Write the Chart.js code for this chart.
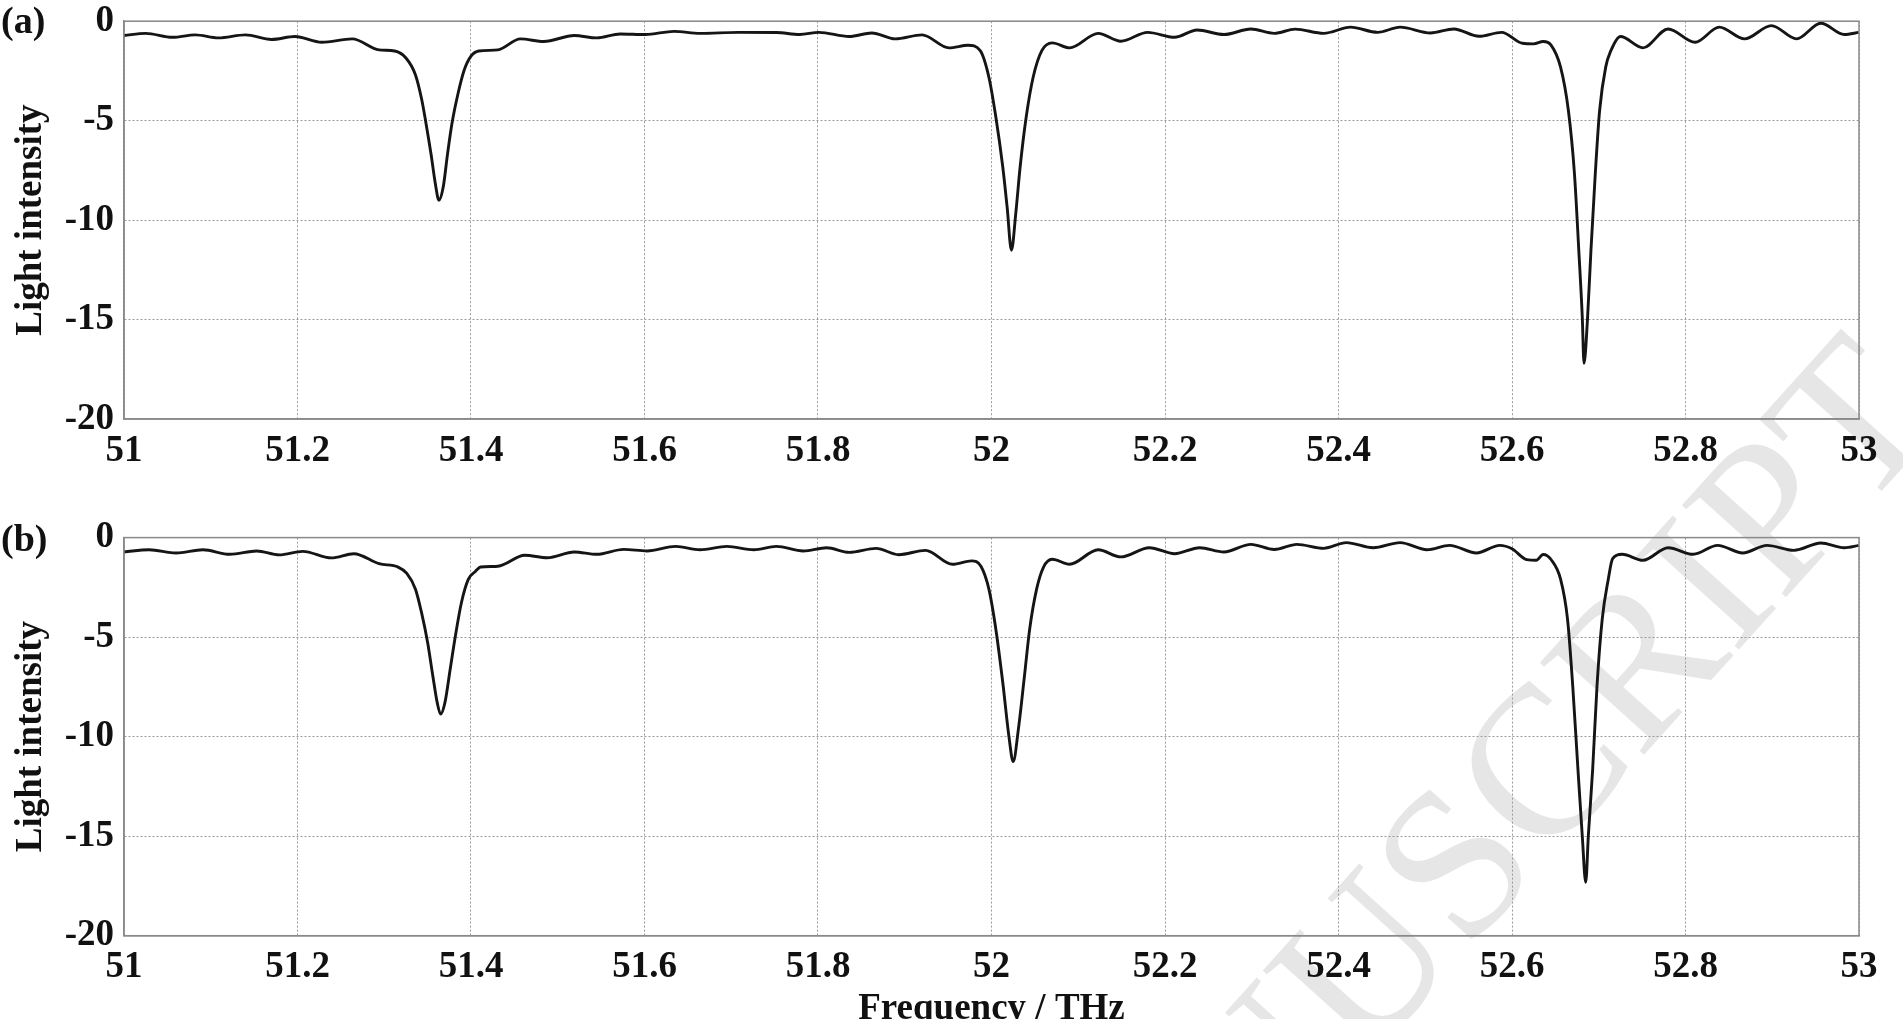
<!DOCTYPE html>
<html>
<head>
<meta charset="utf-8">
<script src="https://cdn.jsdelivr.net/npm/chart.js@4.4.0/dist/chart.umd.min.js"></script>
<style>
  html, body { margin: 0; padding: 0; background: #fff; overflow: hidden; width: 1903px; height: 1019px; }
  canvas { position: absolute; left: 0; z-index: 1; }
  #chartA { top: -11px; }
  #chartB { top: 500px; }
  .tag { position: absolute; left: 1px; font: bold 38px "Liberation Serif", serif; line-height: 38px; color: #111; z-index: 2; }
  #watermark {
    position: absolute; left: 905px; top: 1320px; z-index: 0;
    font: 212px "Liberation Serif", serif; line-height: 200px; color: #e6e6e6;
    white-space: nowrap; transform-origin: 0 0; transform: rotate(-48deg);
  }
</style>
</head>
<body>
<div id="watermark">MANUSCRIPT</div>
<div class="tag" style="top:1px">(a)</div>
<div class="tag" style="top:519px">(b)</div>
<canvas id="chartA" width="1903" height="491"></canvas>
<canvas id="chartB" width="1903" height="534"></canvas>
<script>
// Axis ticks
const xTickLabels = ['51', '51.2', '51.4', '51.6', '51.8', '52', '52.2', '52.4', '52.6', '52.8', '53'];
const yTickLabels = ['-20', '-15', '-10', '-5', '0'];

// Panel (a) spectrum
const freqA = [51.000, 51.025, 51.056, 51.082, 51.109, 51.140, 51.170, 51.197, 51.228, 51.263,
  51.294, 51.312, 51.325, 51.336, 51.343, 51.348, 51.354, 51.359, 51.363, 51.368,
  51.373, 51.378, 51.385, 51.392, 51.400, 51.409, 51.431, 51.457, 51.484, 51.519,
  51.545, 51.572, 51.601, 51.634, 51.664, 51.708, 51.752, 51.779, 51.801, 51.836,
  51.862, 51.889, 51.920, 51.951, 51.973, 51.987, 51.997, 52.005, 52.013, 52.018,
  52.023, 52.028, 52.033, 52.040, 52.048, 52.058, 52.070, 52.090, 52.123, 52.149,
  52.180, 52.211, 52.237, 52.268, 52.299, 52.326, 52.350, 52.383, 52.414, 52.445,
  52.471, 52.506, 52.533, 52.562, 52.588, 52.612, 52.625, 52.636, 52.645, 52.656,
  52.665, 52.672, 52.677, 52.681, 52.683, 52.687, 52.691, 52.696, 52.701, 52.708,
  52.714, 52.725, 52.751, 52.780, 52.811, 52.839, 52.868, 52.899, 52.928, 52.956,
  52.983, 53.000];
const intensityA = [-0.72, -0.61, -0.81, -0.69, -0.84, -0.69, -0.92, -0.77, -1.06, -0.89,
  -1.44, -1.50, -1.85, -2.70, -3.90, -5.10, -6.70, -8.20, -9.00, -8.33,
  -6.66, -5.16, -3.65, -2.48, -1.76, -1.50, -1.44, -0.89, -1.02, -0.72,
  -0.84, -0.64, -0.67, -0.51, -0.61, -0.56, -0.57, -0.67, -0.56, -0.77,
  -0.59, -0.89, -0.69, -1.34, -1.21, -1.48, -2.82, -4.82, -7.33, -9.34,
  -11.52, -9.66, -7.33, -4.82, -2.82, -1.48, -1.09, -1.34, -0.61, -1.01,
  -0.56, -0.81, -0.44, -0.67, -0.39, -0.61, -0.40, -0.61, -0.30, -0.56,
  -0.30, -0.59, -0.39, -0.76, -0.56, -1.11, -1.14, -1.02, -1.20, -2.31,
  -4.49, -7.67, -11.52, -14.86, -17.20, -15.00, -11.52, -7.67, -4.49, -2.31,
  -1.48, -0.77, -1.34, -0.39, -1.06, -0.30, -0.89, -0.22, -0.89, -0.10,
  -0.67, -0.56];

// Panel (b) spectrum
const freqB = [51.000, 51.029, 51.060, 51.091, 51.122, 51.153, 51.179, 51.206, 51.239, 51.265,
  51.294, 51.316, 51.326, 51.336, 51.343, 51.350, 51.356, 51.361, 51.365, 51.370,
  51.376, 51.382, 51.389, 51.397, 51.405, 51.411, 51.431, 51.462, 51.488, 51.519,
  51.545, 51.576, 51.603, 51.636, 51.664, 51.695, 51.726, 51.752, 51.783, 51.810,
  51.836, 51.867, 51.893, 51.924, 51.955, 51.977, 51.988, 51.997, 52.005, 52.013,
  52.020, 52.025, 52.031, 52.038, 52.044, 52.052, 52.060, 52.070, 52.090, 52.123,
  52.149, 52.182, 52.211, 52.240, 52.268, 52.299, 52.326, 52.352, 52.383, 52.409,
  52.440, 52.471, 52.502, 52.528, 52.559, 52.586, 52.600, 52.617, 52.628, 52.636,
  52.645, 52.656, 52.664, 52.670, 52.676, 52.681, 52.685, 52.688, 52.693, 52.698,
  52.704, 52.711, 52.716, 52.727, 52.751, 52.780, 52.809, 52.837, 52.866, 52.894,
  52.925, 52.956, 52.983, 53.000];
const intensityB = [-0.72, -0.61, -0.77, -0.61, -0.84, -0.67, -0.87, -0.69, -1.02, -0.81,
  -1.31, -1.48, -1.80, -2.59, -3.77, -5.27, -6.95, -8.28, -8.87, -8.28,
  -6.61, -4.94, -3.26, -2.09, -1.70, -1.48, -1.44, -0.89, -1.01, -0.72,
  -0.84, -0.59, -0.67, -0.44, -0.61, -0.44, -0.61, -0.44, -0.67, -0.51,
  -0.74, -0.54, -0.86, -0.64, -1.34, -1.17, -1.45, -2.59, -4.60, -7.28,
  -9.96, -11.25, -9.62, -6.95, -4.60, -2.59, -1.48, -1.09, -1.34, -0.61,
  -0.97, -0.51, -0.81, -0.51, -0.72, -0.34, -0.60, -0.34, -0.54, -0.25,
  -0.51, -0.25, -0.61, -0.39, -0.77, -0.39, -0.56, -1.11, -1.14, -0.85,
  -1.10, -2.09, -4.10, -7.45, -11.63, -14.98, -17.32, -14.98, -11.63, -7.45,
  -4.10, -2.09, -1.06, -0.84, -1.14, -0.51, -0.84, -0.39, -0.77, -0.39,
  -0.64, -0.27, -0.51, -0.39];

const FONT = '"Liberation Serif", "Times New Roman", serif';
const TEXT = '#111';
const GRID = '#9a9a9a';
const FRAME = '#8a8a8a';

// solid box round the plot area
const framePlugin = {
  id: 'frame',
  afterDraw(chart) {
    const a = chart.chartArea;
    const ctx = chart.ctx;
    ctx.save();
    ctx.strokeStyle = FRAME;
    ctx.lineWidth = 1.5;
    ctx.strokeRect(a.left, a.top, a.right - a.left, a.bottom - a.top);
    ctx.restore();
  }
};

function makeChart(id, freq, intensity, padTop, xAxisHeight, showXTitle) {
  const points = freq.map((f, i) => ({ x: f, y: intensity[i] }));
  return new Chart(document.getElementById(id), {
    type: 'line',
    data: {
      datasets: [{
        data: points,
        borderColor: '#151515',
        borderWidth: 2.9,
        pointRadius: 0,
        fill: false,
        cubicInterpolationMode: 'monotone'
      }]
    },
    options: {
      responsive: false,
      animation: false,
      layout: { padding: { top: padTop, right: 44, bottom: 0, left: 0 } },
      plugins: { legend: { display: false }, tooltip: { enabled: false } },
      scales: {
        x: {
          type: 'linear',
          min: 51,
          max: 53,
          afterFit: s => { s.height = xAxisHeight; },
          ticks: {
            stepSize: 0.2,
            autoSkip: false,
            maxRotation: 0,
            padding: 10,
            color: TEXT,
            font: { family: FONT, size: 37, weight: 'bold' },
            callback: (v, i) => xTickLabels[i]
          },
          grid: { color: GRID, lineWidth: 1, drawTicks: false },
          border: { display: true, color: FRAME, width: 1.5, dash: [2, 2] },
          title: {
            display: showXTitle,
            text: 'Frequency / THz',
            color: TEXT,
            font: { family: FONT, size: 37, weight: 'bold' },
            padding: { top: 0, bottom: 2 }
          }
        },
        y: {
          min: -20,
          max: 0,
          afterFit: s => { s.width = 124; },
          ticks: {
            stepSize: 5,
            padding: 10,
            color: TEXT,
            font: { family: FONT, size: 37, weight: 'bold' },
            callback: (v, i) => yTickLabels[i]
          },
          grid: { color: GRID, lineWidth: 1, drawTicks: false },
          border: { display: true, color: FRAME, width: 1.5, dash: [2, 2] },
          title: {
            display: true,
            text: 'Light intensity',
            color: TEXT,
            font: { family: FONT, size: 37, weight: 'bold' },
            padding: { top: 9, bottom: 0 }
          }
        }
      }
    },
    plugins: [framePlugin]
  });
}

makeChart('chartA', freqA, intensityA, 32, 61, false);
makeChart('chartB', freqB, intensityB, 37.6, 98.3, true);
</script>
</body>
</html>
